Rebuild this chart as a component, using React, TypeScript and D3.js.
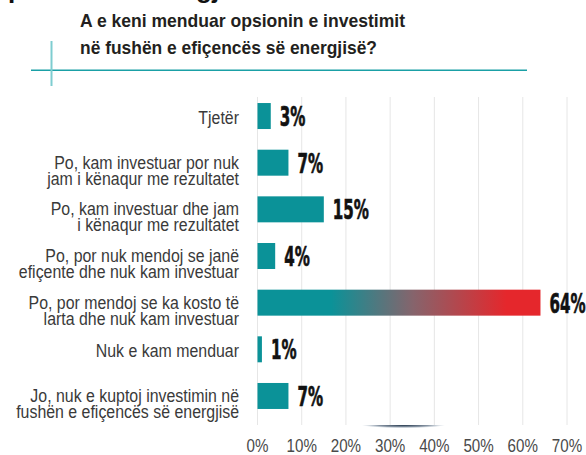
import React from 'react';
import * as d3 from 'd3';

const categories = [
  ['Tjetër'],
  ['Po, kam investuar por nuk', 'jam i kënaqur me rezultatet'],
  ['Po, kam investuar dhe jam', 'i kënaqur me rezultatet'],
  ['Po, por nuk mendoj se janë', 'efiçente dhe nuk kam investuar'],
  ['Po, por mendoj se ka kosto të', 'larta dhe nuk kam investuar'],
  ['Nuk e kam menduar'],
  ['Jo, nuk e kuptoj investimin në', 'fushën e efiçencës së energjisë'],
];
const values = [3, 7, 15, 4, 64, 1, 7];
const ticks = [0, 10, 20, 30, 40, 50, 60, 70];
const titleLines = ['A e keni menduar opsionin e investimit', 'në fushën e efiçencës së energjisë?'];

const W = 586;
const H = 455;
const TEAL = '#0b9298';
const RED = '#e5272c';

export default function App() {
  const keys = categories.map((c) => c.join(' '));
  const x = d3.scaleLinear().domain([0, 70]).range([257.5, 567]);
  const y = d3.scaleBand().domain(keys).range([92.7, 419.3]).paddingInner(0.443).paddingOuter(0.2215);
  const maxIdx = values.indexOf(d3.max(values));

  return (
    <svg width={W} height={H} style={{ position: 'absolute', left: 0, top: 0 }}>
      <defs>
        <linearGradient id="bigbar" x1="0" x2="1" y1="0" y2="0">
          <stop offset="0" stopColor={TEAL} />
          <stop offset="0.26" stopColor={TEAL} />
          <stop offset="0.55" stopColor="#86646c" />
          <stop offset="0.88" stopColor={RED} />
          <stop offset="1" stopColor={RED} />
        </linearGradient>
        <radialGradient id="glow" cx="0.5" cy="0" r="0.5" fx="0.5" fy="0">
          <stop offset="0" stopColor="#a9c1d8" stopOpacity="0.9" />
          <stop offset="0.5" stopColor="#d3e1ee" stopOpacity="0.6" />
          <stop offset="1" stopColor="#ffffff" stopOpacity="0" />
        </radialGradient>
        <radialGradient id="shadow" cx="0.5" cy="0.5" r="0.5">
          <stop offset="0" stopColor="#1c2f44" stopOpacity="1" />
          <stop offset="0.6" stopColor="#3b5068" stopOpacity="0.6" />
          <stop offset="1" stopColor="#7890a8" stopOpacity="0" />
        </radialGradient>
        <clipPath id="below">
          <rect x={0} y={425} width={W} height={30} />
        </clipPath>
      </defs>
      <rect width={W} height={H} fill="#fff" />

      {/* cut-off heading above */}
      <g fontFamily="'Liberation Sans', Arial, sans-serif" fontWeight="bold" fontSize={26} fill="#111">
        <text x={8} y={-2}>p</text>
        <text x={196} y={-2}>gj</text>
      </g>

      {/* title */}
      <g fontFamily="'Liberation Sans', Arial, sans-serif" fontWeight="bold" fontSize={19} fill="#231f20">
        <text x={80} y={27} textLength={325} lengthAdjust="spacingAndGlyphs">{titleLines[0]}</text>
        <text x={80} y={53.5} textLength={297} lengthAdjust="spacingAndGlyphs">{titleLines[1]}</text>
      </g>
      <line x1={31} x2={527} y1={70.3} y2={70.3} stroke="#1aa0a6" strokeWidth={1.6} />
      <line x1={51.5} x2={51.5} y1={41} y2={86} stroke="#7ecdd0" strokeWidth={2} />

      {/* grid */}
      {ticks.map((t) => (
        <line key={t} x1={x(t)} x2={x(t)} y1={97} y2={425} stroke="#e6e6e6" strokeWidth={1} />
      ))}

      {/* shadow under chart */}
      <g clipPath="url(#below)">
        <ellipse cx={x(33)} cy={425} rx={175} ry={16} fill="url(#glow)" />
        <ellipse cx={x(33)} cy={425} rx={42} ry={3.2} fill="url(#shadow)" />
      </g>

      {/* bars */}
      {values.map((v, i) => (
        <rect
          key={i}
          x={x(0)}
          y={y(keys[i])}
          width={x(v) - x(0)}
          height={y.bandwidth()}
          fill={i === maxIdx ? 'url(#bigbar)' : TEAL}
        />
      ))}

      {/* value labels */}
      {values.map((v, i) => (
        <text
          key={i}
          transform={`translate(${x(v) + 9},${y(keys[i]) + y.bandwidth() / 2 + 10}) scale(0.58,1)`}
          fontFamily="'DejaVu Sans', sans-serif"
          fontWeight="bold"
          fontSize={26}
          fill="#111"
          stroke="#111"
          strokeWidth={0.7}
        >
          {v}%
        </text>
      ))}

      {/* category labels, one text each with a tspan per line */}
      {categories.map((lines, i) => {
        const c = y(keys[i]) + y.bandwidth() / 2;
        const base = lines.length === 1 ? c + 8 : c + 6;
        return (
          <text
            key={i}
            transform={`translate(239,${base}) scale(0.86,1)`}
            textAnchor="end"
            fontFamily="'Liberation Sans', Arial, sans-serif"
            fontSize={18.5}
            fill="#3a3a3a"
          >
            {lines.map((l, j) => (
              <tspan key={j} x={0} y={j * 16}>
                {l}
              </tspan>
            ))}
          </text>
        );
      })}

      {/* x tick labels */}
      {ticks.map((t) => (
        <text
          key={t}
          transform={`translate(${x(t)},452) scale(0.82,1)`}
          textAnchor="middle"
          fontFamily="'Liberation Sans', Arial, sans-serif"
          fontSize={18.5}
          fill="#4a4a4a"
        >
          {t}%
        </text>
      ))}
    </svg>
  );
}
